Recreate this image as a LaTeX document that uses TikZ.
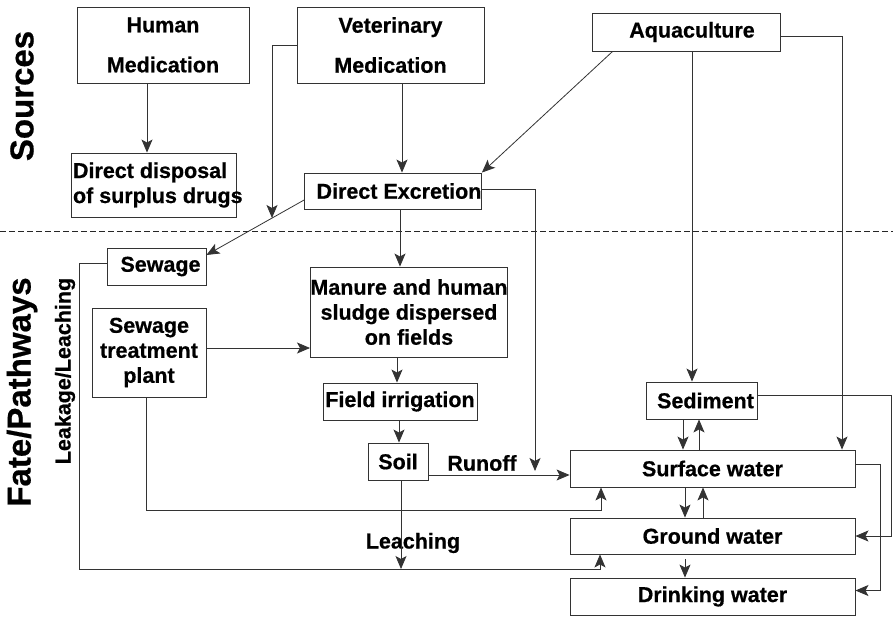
\documentclass[tikz,border=0pt]{standalone}
\usepackage{fontspec}
\setmainfont{Liberation Sans}[BoldFeatures={FakeBold=0.6}]
\usetikzlibrary{arrows.meta,calc}
\begin{document}
\begin{tikzpicture}[x=1pt,y=-1pt,
 box/.style={draw=black!80, line width=0.9pt, inner sep=0pt, align=center, font=\bfseries\fontsize{21.5}{25}\selectfont},
 conn/.style={draw=black!80, line width=0.8pt},
 arr/.style={conn, -{Stealth[length=13pt,width=11pt,inset=3pt]}},
 lab/.style={font=\bfseries\fontsize{21.5}{25}\selectfont, inner sep=0pt},
 big/.style={font=\bfseries\fontsize{33}{36}\selectfont, inner sep=0pt, rotate=90}
]
\useasboundingbox (0,0) rectangle (893,616);
\fill[white] (0,0) rectangle (893,616);

% dashed separator
\coordinate (dl) at (0,231);
\coordinate (dr) at (893,231);
\draw[black!85, line width=0.9pt, dash pattern=on 6pt off 3pt] (dl) -- (dr);

% side labels
\node[big] (src) at (22,96) {Sources};
\node[big] (fate) at (22,392) {Fate/Pathways};
\node[lab, rotate=90] (leak) at (65,371) {Leakage/Leaching};

% boxes
\node[box, minimum width=172, minimum height=76] (hm) at (163,45) {Human\\[15pt]Medication};
\node[box, minimum width=165, minimum height=64, align=left] (dd) at (153.5,185)
  {\makebox[161pt][l]{Direct disposal}\\\makebox[161pt][l]{of surplus drugs}};
\node[box, minimum width=187, minimum height=76] (vm) at (390.5,45) {Veterinary\\[15pt]Medication};
\node[box, minimum width=188, minimum height=38] (aq) at (686,32) {\hspace*{12pt}Aquaculture};
\node[box, minimum width=176, minimum height=36] (de) at (393,191) {\hspace*{12pt}Direct Excretion};
\node[box, minimum width=99, minimum height=37] (sew) at (156.5,266.5) {\hspace*{8pt}Sewage};
\node[box, minimum width=114, minimum height=89] (stp) at (149,352.5) {Sewage\\treatment\\plant};
\node[box, minimum width=196, minimum height=90] (man) at (409,312) {Manure and human\\sludge dispersed\\on fields};
\node[box, minimum width=154, minimum height=37] (fi) at (400,401.5) {Field irrigation};
\node[box, minimum width=60, minimum height=37] (soil) at (398,461.5) {Soil};
\node[box, minimum width=111, minimum height=37] (sed) at (701.5,400.5) {\hspace*{8pt}Sediment};
\node[box, minimum width=285, minimum height=37] (sw) at (712.5,468.5) {Surface water};
\node[box, minimum width=285, minimum height=36] (gw) at (712.5,536) {Ground water};
\node[box, minimum width=285, minimum height=37] (dw) at (712.5,596.5) {Drinking water};

% text labels
\node[lab] (runoff) at (482,463) {Runoff};
\node[lab] (leach) at (413,543) {Leaching};

% helper coordinates
\coordinate (c1) at (272,218);
\coordinate (c2) at (535,471);
\coordinate (j1) at (601,510);
\coordinate (j2) at (600,569);
\coordinate (j3) at (79,569);

% connectors
\draw[arr] ([xshift=-16pt]hm.south) -- ([xshift=-16pt]hm.south |- dd.north);
\draw[arr] (vm.west) -| (c1);
\draw[arr] ([xshift=11.5pt]vm.south) -- ([xshift=11.5pt]vm.south |- de.north);
\draw[arr] ([xshift=21pt]aq.south west) -- (de.north east);
\draw[arr] ([yshift=-9pt]de.west) -- ([yshift=11.5pt]sew.east);
\draw[arr] ([xshift=7pt]de.south) -- ([xshift=7pt]de.south |- man.north);
\draw[arr] ([yshift=2pt]de.east) -| (c2);
\draw[arr] ([xshift=6pt]aq.south) -- ([xshift=6pt]aq.south |- sed.north);
\draw[arr] ([yshift=-4pt]aq.east) -| ([xshift=129.5pt]sw.north);
\draw[arr] ([xshift=-18.5pt]sed.south) -- ([xshift=-18.5pt]sed.south |- sw.north);
\draw[arr] ([xshift=-13.5pt]sw.north) -- ([xshift=-13.5pt]sw.north |- sed.south);
\draw[arr] ([xshift=-27.5pt]sw.south) -- ([xshift=-27.5pt]sw.south |- gw.north);
\draw[arr] ([xshift=-9.5pt]gw.north) -- ([xshift=-9.5pt]gw.north |- sw.south);
\draw[arr] ([xshift=-27.5pt,yshift=-5pt]gw.south) -- ([xshift=-27.5pt]gw.south |- dw.north);
\draw[arr] ([yshift=5.5pt]sed.east) -| ($(gw.east)+(36,0)$) -- (gw.east);
\draw[arr] ([yshift=4.5pt]sw.east) -| ($(dw.east)+(25,-6)$) -- ([yshift=6pt]dw.east);
\draw[arr] ([yshift=4.5pt]stp.east) -- ([yshift=4.5pt]stp.east -| man.west);
\draw[arr] ([xshift=-3pt]stp.south) |- (j1) -- (j1 |- sw.south);
\draw[arr] ([yshift=3.5pt]sew.west) -| (j3) -- (j2) -- (j2 |- gw.south);
\draw[arr] ([xshift=-12pt]man.south) -- ([xshift=-12pt]man.south |- fi.north);
\draw[arr] ([xshift=-1pt]fi.south) -- ([xshift=-1pt]fi.south |- soil.north);
\draw[arr] ([yshift=-13.5pt]soil.east) -- ([yshift=-13.5pt]soil.east -| sw.west);
\draw[arr] ([xshift=3pt]soil.south) -- ([xshift=3pt]soil.south |- j2);
\end{tikzpicture}
\end{document}
